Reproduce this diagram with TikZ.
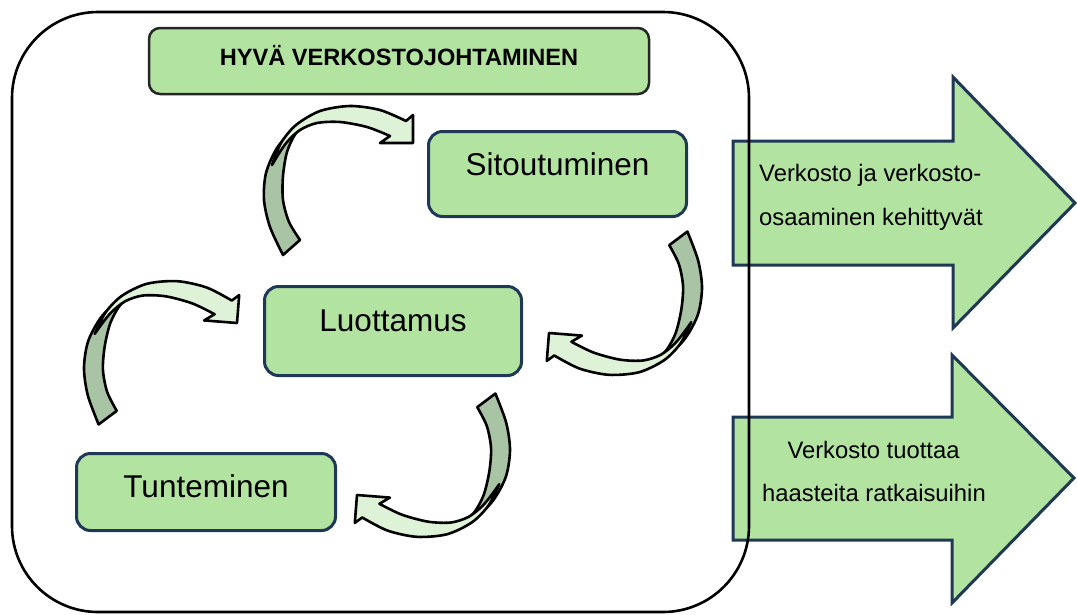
\documentclass[tikz,border=0pt]{standalone}
\usepackage{fontspec}
\setmainfont{Liberation Sans}
\definecolor{boxgreen}{RGB}{179,227,160}
\definecolor{navy}{RGB}{31,56,86}
\definecolor{bandback}{RGB}{169,196,165}
\definecolor{bandfront}{RGB}{222,242,215}
\tikzset{
  stage/.style={draw=navy, line width=3pt, fill=boxgreen, rounded corners=14pt,
    inner sep=0pt, font=\fontsize{31.5}{36}\selectfont, text height=22.6pt},
  headline/.style={draw=black!85, line width=2.5pt, fill=boxgreen, rounded corners=11pt,
    inner sep=0pt, font=\bfseries\fontsize{23.6}{28}\selectfont,
    text height=16.9pt, text depth=8pt},
  outcome/.style={draw=navy, line width=3pt, fill=boxgreen, line join=miter},
  outtext/.style={font=\fontsize{23.8}{28}\selectfont, inner sep=0pt},
  band/.style={draw=black, line width=2.6pt, line join=round},
  % curved ribbon arrow, origin at the arrow tip
  cyclearrow/.pic={
    \filldraw[band, fill=bandback]
      plot[smooth] coordinates {(-130,112) (-143,84) (-149,57) (-147,30) (-136,5) (-119,-14) (-101,-26)}
      -- plot[smooth] coordinates {(-101,-26) (-117,-10) (-126,9) (-130,33) (-130,57) (-124,79) (-113,97)}
      -- cycle;
    \filldraw[band, fill=bandfront]
      plot[smooth] coordinates {(-141,22) (-132,0) (-117,-18) (-93,-32) (-63,-37) (-33,-33) (-7,-22)}
      -- (0,-28) -- (0,0) -- (-33,0)
      -- plot[smooth] coordinates {(-23,-7) (-46,-16) (-73,-21) (-96,-20) (-113,-13) (-126,-1) (-135,12) (-141,22)}
      -- cycle;
  }
}
\begin{document}
\begin{tikzpicture}[x=1pt, y=-1pt]
\useasboundingbox (0,0) rectangle (1077,614);

% outcome arrows
\filldraw[outcome] (733,141) -- (953,141) -- (953,77) -- (1075,203) -- (953,328)
  -- (953,265) -- (733,265) -- cycle;
\filldraw[outcome] (733,417) -- (952,417) -- (952,355) -- (1074,478) -- (952,603)
  -- (952,540) -- (733,540) -- cycle;
\node[outtext, anchor=base west] (out1a) at (759,181.5) {Verkosto ja verkosto-};
\node[outtext, anchor=base west] (out1b) at (759,225.5) {osaaminen kehittyvät};
\node[outtext, anchor=base] (out2a) at (873.5,458.5) {Verkosto tuottaa};
\node[outtext, anchor=base] (out2b) at (874,501.5) {haasteita ratkaisuihin};

% frame
\draw[line width=2.6pt, rounded corners=86pt] (12,12) rectangle (749,612);

% title and stages
\node[headline, minimum width=500pt, minimum height=66pt] (title) at (399,61)
  {HYVÄ VERKOSTOJOHTAMINEN};
\node[stage, minimum width=258pt, minimum height=85pt, text depth=19pt] (sit) at (557.5,174) {Sitoutuminen};
\node[stage, minimum width=257pt, minimum height=89pt, text depth=22pt] (luo) at (393,331) {Luottamus};
\node[stage, minimum width=259pt, minimum height=77pt, text depth=12pt] (tun) at (206,492) {Tunteminen};

% cycle arrows
\pic at (413,143) {cyclearrow};
\pic[rotate=175.5] at (549,333) {cyclearrow};
\pic[rotate=-4.5] at (237,323) {cyclearrow};
\pic[rotate=175.5] at (357,495) {cyclearrow};
\end{tikzpicture}
\end{document}
